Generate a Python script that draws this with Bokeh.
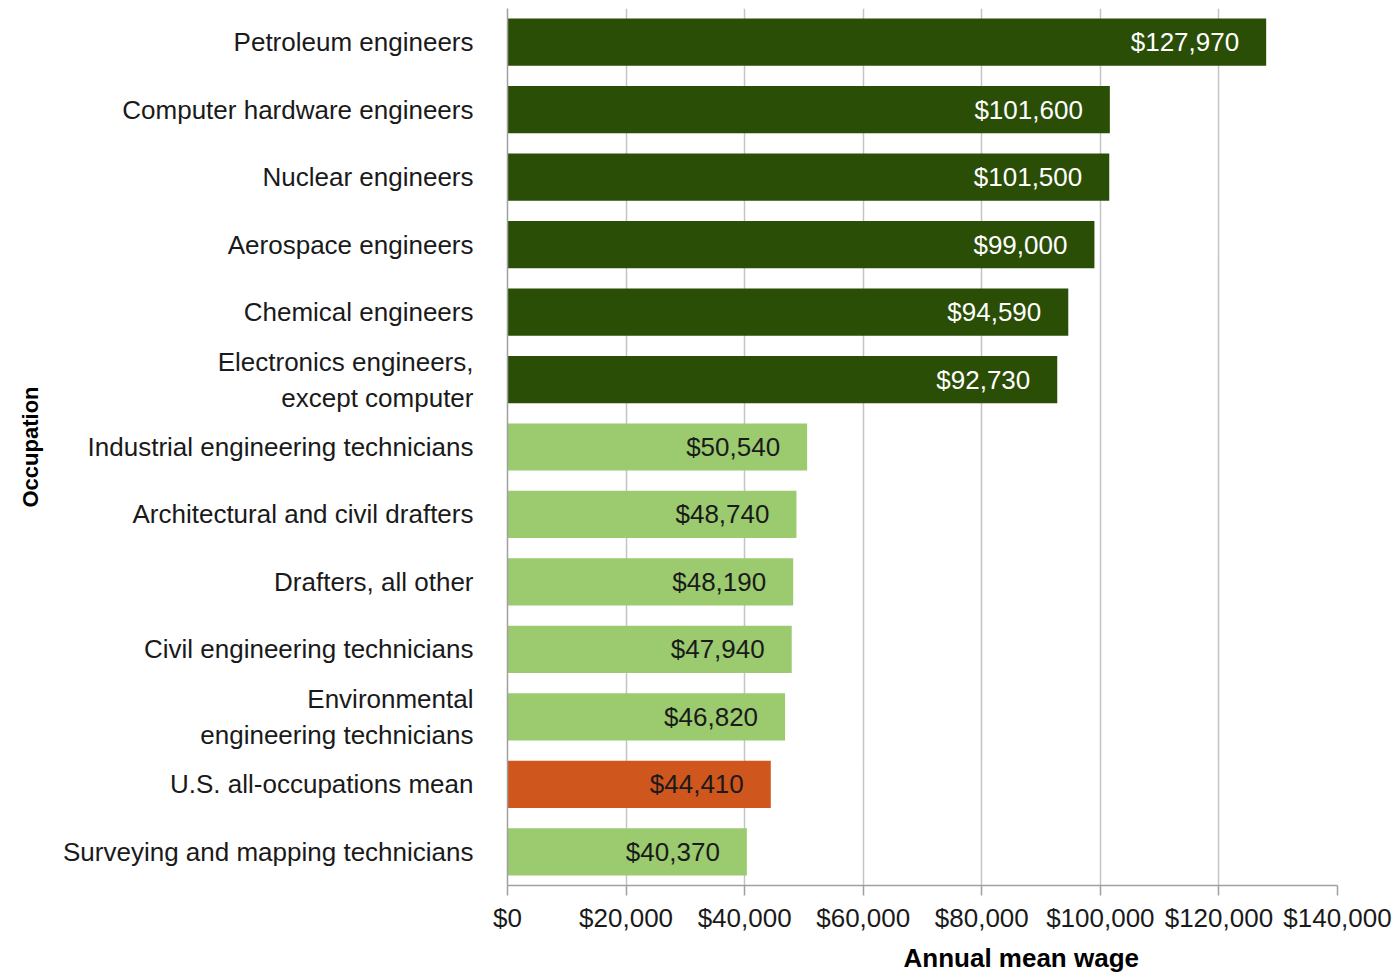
from bokeh.plotting import figure
from bokeh.models import ColumnDataSource, FactorRange, Range1d, NumeralTickFormatter, Title, FixedTicker
from bokeh.embed import file_html
from bokeh.resources import INLINE

occupations = [
    "Petroleum engineers",
    "Computer hardware engineers",
    "Nuclear engineers",
    "Aerospace engineers",
    "Chemical engineers",
    "Electronics engineers,\nexcept computer",
    "Industrial engineering technicians",
    "Architectural and civil drafters",
    "Drafters, all other",
    "Civil engineering technicians",
    "Environmental\nengineering technicians",
    "U.S. all-occupations mean",
    "Surveying and mapping technicians",
]
wages = [127970, 101600, 101500, 99000, 94590, 92730, 50540, 48740, 48190, 47940, 46820, 44410, 40370]
groups = ["eng", "eng", "eng", "eng", "eng", "eng", "tech", "tech", "tech", "tech", "tech", "mean", "tech"]
x_ticks = [0, 20000, 40000, 60000, 80000, 100000, 120000, 140000]

fill_map = {"eng": "#2b4e07", "tech": "#9bca6f", "mean": "#cf561c"}
text_map = {"eng": "#ffffff", "tech": "#1a1a1a", "mean": "#1a1a1a"}

src = ColumnDataSource(dict(
    occ=occupations,
    wage=wages,
    fill=[fill_map[g] for g in groups],
    tcol=[text_map[g] for g in groups],
    lab=["${:,}".format(w) for w in wages],
))

FONT = "Liberation Sans"

p = figure(
    frame_width=830, frame_height=877,
    y_range=FactorRange(factors=list(reversed(occupations)), range_padding=0),
    x_range=Range1d(0, 140000),
    output_backend="svg", toolbar_location=None,
    min_border_left=507, min_border_top=8, min_border_right=58, min_border_bottom=0,
)
p.outline_line_color = None

p.hbar(y="occ", right="wage", left=0, height=0.7, fill_color="fill", line_color=None, source=src)
p.text(x="wage", y="occ", text="lab", text_color="tcol", source=src,
       text_align="right", text_baseline="middle", x_offset=-27,
       text_font_size="26px", text_font={"value": FONT})

p.xaxis.ticker = FixedTicker(ticks=x_ticks)
p.xaxis.formatter = NumeralTickFormatter(format="$0,0")
p.xaxis.major_label_text_font = FONT
p.xaxis.major_label_text_font_size = "26px"
p.xaxis.major_label_text_color = "#1a1a1a"
p.xaxis.axis_line_color = "#a0a0a0"
p.xaxis.axis_line_width = 1.5
p.xaxis.major_tick_line_color = "#a0a0a0"
p.xaxis.major_tick_line_width = 1.5
p.xaxis.major_tick_in = 0
p.xaxis.major_tick_out = 10
p.xaxis.minor_tick_line_color = None
p.xaxis.major_label_standoff = 7

p.yaxis.axis_line_color = "#a0a0a0"
p.yaxis.axis_line_width = 1.5
p.yaxis.major_tick_line_color = None
p.yaxis.minor_tick_line_color = None
p.yaxis.major_label_text_font = FONT
p.yaxis.major_label_text_font_size = "26px"
p.yaxis.major_label_text_color = "#1a1a1a"
p.yaxis.major_label_standoff = 28
p.yaxis.axis_label = "Occupation"
p.yaxis.axis_label_text_font = FONT
p.yaxis.axis_label_text_font_style = "bold"
p.yaxis.axis_label_text_font_size = "22px"
p.yaxis.axis_label_text_color = "#000000"
p.yaxis.axis_label_standoff = 17

p.xgrid.grid_line_color = "#c4c4c4"
p.xgrid.grid_line_width = 1.5
p.ygrid.grid_line_color = None

p.add_layout(Title(text="Annual mean wage", align="left", offset=396,
                   text_font=FONT, text_font_style="bold", text_font_size="26px",
                   text_color="#000000"), "below")

open("out.html", "w").write(file_html(p, INLINE))
